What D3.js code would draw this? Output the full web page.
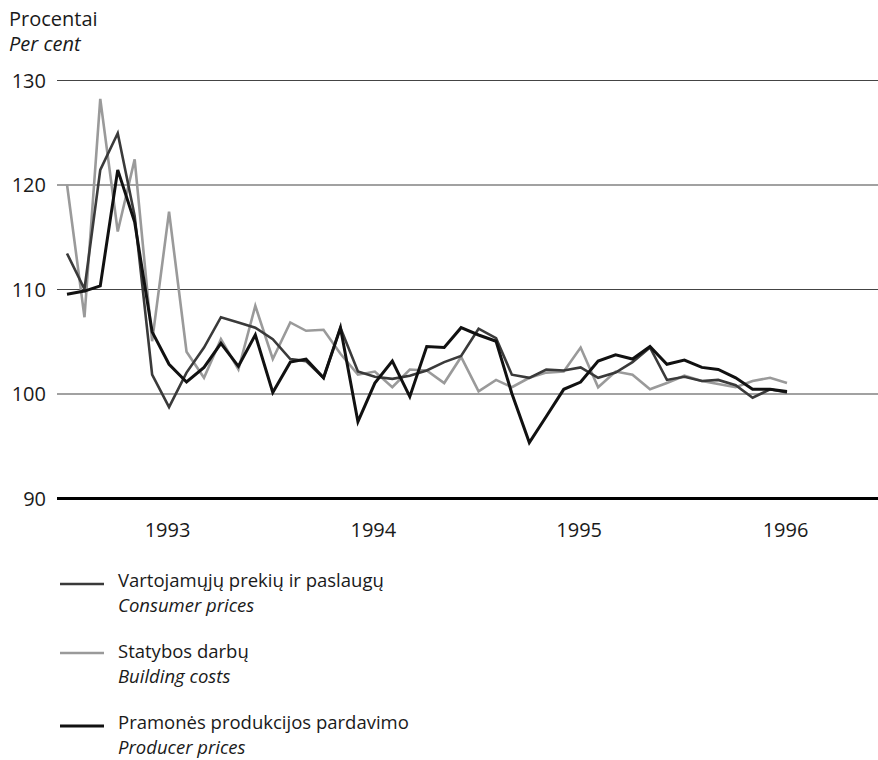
<!DOCTYPE html>
<html>
<head>
<meta charset="utf-8">
<script src="https://cdn.jsdelivr.net/npm/d3@7"></script>
<style>
  body { margin: 0; background: #fff; }
  svg text { font-family: "Open Sans", Lato, sans-serif; fill: #1a1a1a; }
</style>
</head>
<body>
<div id="chart"></div>
<script>
// monthly data, Jan 1993 - Jul 1996 (previous month = 100)
var startMonth = new Date(1993, 0, 1),
    endMonth = new Date(1996, 6, 1);

var consumer = [113.4, 110.0, 121.4, 124.9, 117.0, 101.8, 98.7, 102.0, 104.4, 107.3,
                106.8, 106.3, 105.2, 103.3, 103.1, 101.5, 106.3, 102.1, 101.6, 101.4,
                101.7, 102.2, 103.0, 103.6, 106.2, 105.3, 101.8, 101.5, 102.3, 102.2,
                102.5, 101.5, 102.0, 103.0, 104.4, 101.3, 101.6, 101.2, 101.3, 100.8,
                99.6, 100.4, 100.1];
var building = [120.0, 107.3, 128.2, 115.5, 122.4, 105.0, 117.4, 104.0, 101.5, 105.2,
                102.3, 108.4, 103.3, 106.8, 106.0, 106.1, 103.8, 101.8, 102.1, 100.6,
                102.3, 102.2, 101.0, 103.5, 100.2, 101.3, 100.6, 101.5, 102.0, 102.1,
                104.4, 100.6, 102.1, 101.8, 100.4, 101.0, 101.7, 101.2, 100.9, 100.6,
                101.2, 101.5, 101.0];
var producer = [109.5, 109.8, 110.3, 121.4, 116.4, 105.9, 102.8, 101.1, 102.5, 104.8,
                102.6, 105.6, 100.1, 103.0, 103.3, 101.5, 106.3, 97.3, 101.0, 103.1,
                99.7, 104.5, 104.4, 106.3, 105.6, 105.0, 100.0, 95.3, 97.8, 100.4,
                101.1, 103.1, 103.7, 103.3, 104.5, 102.8, 103.2, 102.5, 102.3, 101.5,
                100.4, 100.4, 100.2];

var yTicks = [90, 100, 110, 120, 130];
var years = [1993, 1994, 1995, 1996];

var seriesNames = [
  {lt: 'Vartojamųjų prekių ir paslaugų', en: 'Consumer prices', values: consumer},
  {lt: 'Statybos darbų', en: 'Building costs', values: building},
  {lt: 'Pramonės produkcijos pardavimo', en: 'Producer prices', values: producer}
];
var lineColors = ['#3a3a3a', '#9a9a9a', '#111'];
var lineWidths = [2.6, 2.6, 3];

var width = 878, height = 760, fontSize = 20, legendFont = 18.5;

var svg = d3.select('#chart').append('svg')
    .attr('width', width)
    .attr('height', height);

var months = d3.timeMonth.range(startMonth, d3.timeMonth.offset(endMonth, 1));

var x = d3.scaleTime().domain([startMonth, endMonth]).range([67, 787]);
var y = d3.scaleLinear().domain([90, 130]).range([498, 80]);

// horizontal grid lines
var yAxis = d3.axisLeft(y)
    .tickValues(yTicks)
    .tickSize(-(width - 57))
    .tickPadding(11);

svg.append('g')
    .attr('transform', 'translate(57,0)')
    .call(yAxis)
    .call(function(g) { g.select('.domain').remove(); })
    .call(function(g) {
      g.selectAll('line')
        .attr('stroke', function(d) { return d === 90 ? '#000' : '#444'; })
        .attr('stroke-width', function(d) { return d === 90 ? 3 : 1.2; });
      g.selectAll('text')
        .attr('font-size', fontSize)
        .attr('dy', '0.36em');
    });

// year labels
var xAxis = d3.axisBottom(x)
    .tickValues(years.map(function(yr) { return new Date(yr, 6, 1); }))
    .tickFormat(d3.timeFormat('%Y'))
    .tickSize(0)
    .tickPadding(0);

svg.append('g')
    .attr('transform', 'translate(-2,523)')
    .call(xAxis)
    .call(function(g) { g.select('.domain').remove(); })
    .selectAll('text')
      .attr('font-size', fontSize);

// lines
var line = d3.line()
    .x(function(d, i) { return x(months[i]); })
    .y(function(d) { return y(d); });

[1, 0, 2].forEach(function(k) {
  svg.append('path')
    .datum(seriesNames[k].values)
    .attr('fill', 'none')
    .attr('stroke', lineColors[k])
    .attr('stroke-width', lineWidths[k])
    .attr('stroke-linejoin', 'miter')
    .attr('d', line);
});

// axis title
svg.append('text').attr('x', 9).attr('y', 26).attr('font-size', fontSize).text('Procentai');
svg.append('text').attr('x', 9).attr('y', 51).attr('font-size', fontSize)
    .attr('font-style', 'italic').text('Per cent');

// legend
var legendY = [584, 653, 726];
var legend = svg.selectAll('.legend')
    .data(seriesNames)
    .enter().append('g')
    .attr('class', 'legend')
    .attr('transform', function(d, i) { return 'translate(0,' + legendY[i] + ')'; });

legend.append('line')
    .attr('x1', 60).attr('x2', 104)
    .attr('y1', 0).attr('y2', 0)
    .attr('stroke', function(d, i) { return lineColors[i]; })
    .attr('stroke-width', function(d, i) { return lineWidths[i]; });

legend.append('text')
    .attr('x', 118).attr('y', function(d, i) { return i === 1 ? 5 : 3; })
    .attr('font-size', legendFont)
    .text(function(d) { return d.lt; });

legend.append('text')
    .attr('x', 118).attr('y', function(d, i) { return i === 1 ? 30 : 28; })
    .attr('font-size', legendFont)
    .attr('font-style', 'italic')
    .text(function(d) { return d.en; });
</script>
</body>
</html>
